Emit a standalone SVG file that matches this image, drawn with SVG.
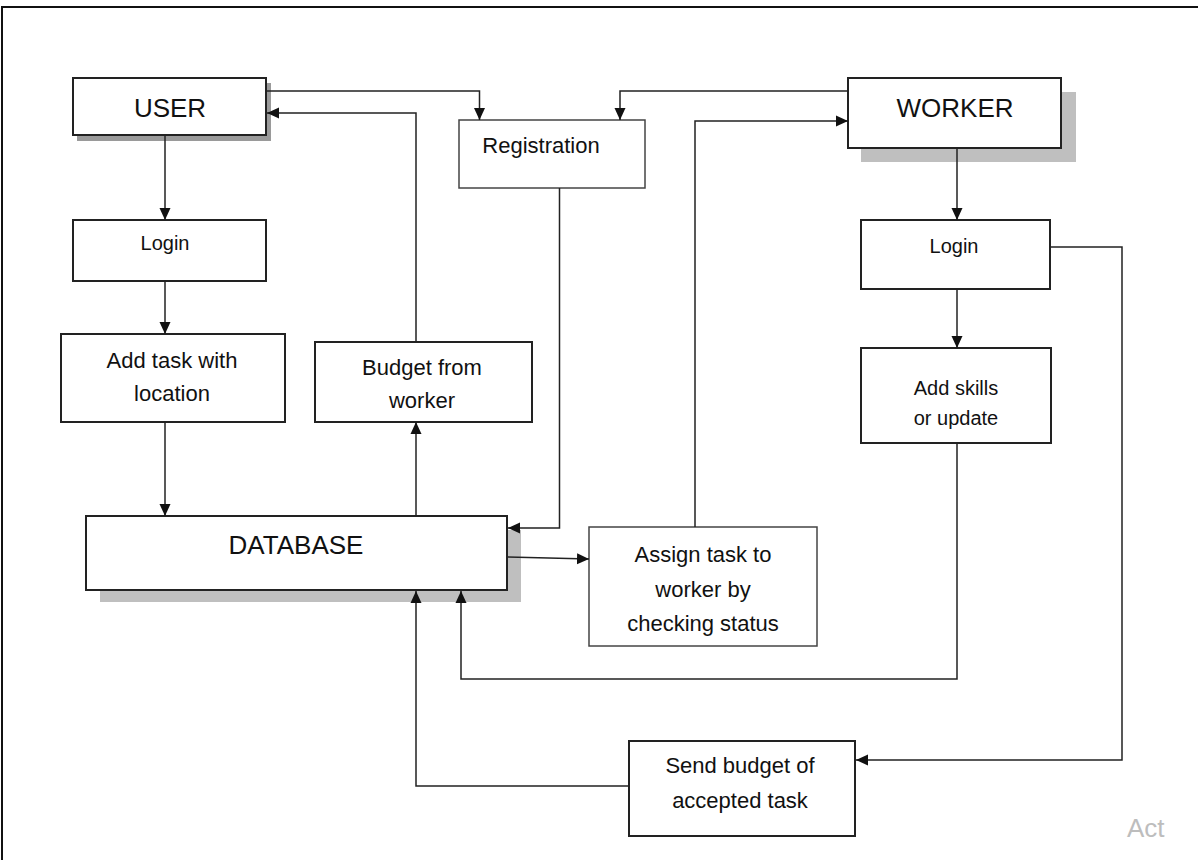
<svg xmlns="http://www.w3.org/2000/svg" width="1198" height="860" viewBox="0 0 1198 860">
<style>
.box{fill:#fff;stroke:#222;stroke-width:2}
.lbox{fill:#fff;stroke:#444;stroke-width:1.5}
.sh{fill:#bfbfbf}
.t{font-family:"Liberation Sans",Arial,sans-serif;font-size:22px;fill:#111;text-anchor:middle}
.big{font-size:26px}
.sm{font-size:20px}
.c{fill:none;stroke:#222;stroke-width:1.5}
</style>
<defs>
<marker id="ah" markerUnits="userSpaceOnUse" markerWidth="12" markerHeight="12" viewBox="0 0 12 12" refX="12" refY="6" orient="auto">
<path d="M0,0.5 L12,6 L0,11.5 Z" fill="#111"/>
</marker>
</defs>
<rect width="1198" height="860" fill="#fff"/>
<path d="M2,860 V7 H1198" fill="none" stroke="#111" stroke-width="2"/>

<g id="user">
<rect x="77" y="83" width="194" height="58" fill="#9a9a9a"/>
<rect class="box" x="73" y="78" width="193" height="57"/>
<text class="t big" x="170" y="117">USER</text>
</g>

<g id="registration">
<rect class="lbox" x="459" y="120" width="186" height="68"/>
<text class="t" x="541" y="153">Registration</text>
</g>

<g id="worker">
<rect class="sh" x="861" y="92" width="215" height="70"/>
<rect class="box" x="848" y="78" width="213" height="70"/>
<text class="t big" x="955" y="117">WORKER</text>
</g>

<g id="login-user">
<rect class="box" x="73" y="220" width="193" height="61"/>
<text class="t sm" x="165" y="250">Login</text>
</g>

<g id="login-worker">
<rect class="box" x="861" y="220" width="189" height="69"/>
<text class="t sm" x="954" y="253">Login</text>
</g>

<g id="add-task">
<rect class="box" x="61" y="334" width="224" height="88"/>
<text class="t" x="172" y="368">Add task with</text>
<text class="t" x="172" y="401">location</text>
</g>

<g id="budget-from-worker">
<rect class="box" x="315" y="342" width="217" height="80"/>
<text class="t" x="422" y="375">Budget from</text>
<text class="t" x="422" y="408">worker</text>
</g>

<g id="add-skills">
<rect class="box" x="861" y="348" width="190" height="95"/>
<text class="t sm" x="956" y="395">Add skills</text>
<text class="t sm" x="956" y="425">or update</text>
</g>

<g id="database">
<rect class="sh" x="100" y="530" width="421" height="72"/>
<rect class="box" x="86" y="516" width="421" height="74"/>
<text class="t big" x="296" y="554">DATABASE</text>
</g>

<g id="assign-task">
<rect class="lbox" x="589" y="527" width="228" height="119"/>
<text class="t" x="703" y="562">Assign task to</text>
<text class="t" x="703" y="597">worker by</text>
<text class="t" x="703" y="631">checking status</text>
</g>

<g id="send-budget">
<rect class="box" x="629" y="741" width="226" height="95"/>
<text class="t" x="740" y="773">Send budget of</text>
<text class="t" x="740" y="808">accepted task</text>
</g>

<g id="connectors">
<path class="c" d="M266,91 H479.5 V120" marker-end="url(#ah)"/>
<path class="c" d="M416,342 V113 H267" marker-end="url(#ah)"/>
<path class="c" d="M848,91 H620 V120" marker-end="url(#ah)"/>
<path class="c" d="M695,527 V121 H848" marker-end="url(#ah)"/>
<path class="c" d="M559.5,188 V528 H508" marker-end="url(#ah)"/>
<path class="c" d="M957,148 V220" marker-end="url(#ah)"/>
<path class="c" d="M957,289 V348" marker-end="url(#ah)"/>
<path class="c" d="M1050,247 H1122 V760 H856" marker-end="url(#ah)"/>
<path class="c" d="M957,443 V679 H461 V591" marker-end="url(#ah)"/>
<path class="c" d="M629,786 H416 V591" marker-end="url(#ah)"/>
<path class="c" d="M165,135 V220" marker-end="url(#ah)"/>
<path class="c" d="M165,281 V334" marker-end="url(#ah)"/>
<path class="c" d="M165,422 V516" marker-end="url(#ah)"/>
<path class="c" d="M416,516 V422" marker-end="url(#ah)"/>
<path class="c" d="M508,557 L589,559" marker-end="url(#ah)"/>
</g>

<text x="1127" y="837" font-family="'Liberation Sans',Arial,sans-serif" font-size="26" fill="#bdbdbd">Act</text>
</svg>
